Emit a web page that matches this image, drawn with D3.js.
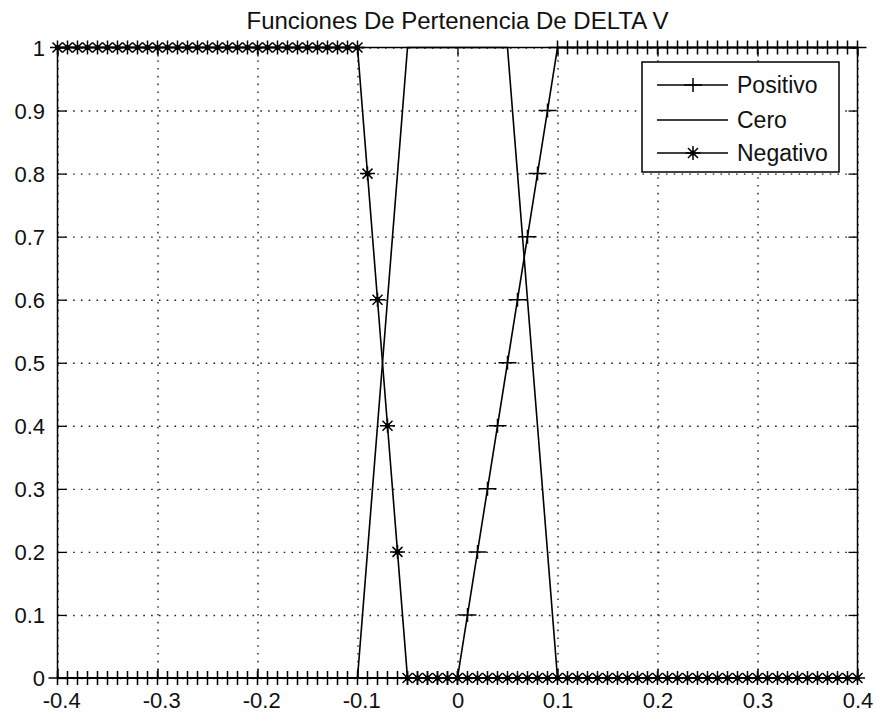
<!DOCTYPE html>
<html>
<head>
<meta charset="utf-8">
<script src="https://cdn.jsdelivr.net/npm/d3@7"></script>
<style>
  html, body { margin: 0; padding: 0; background: #fff; }
  svg { display: block; }
  text { font-family: "Liberation Sans", Arial, Helvetica, sans-serif; fill: #111; }
</style>
</head>
<body>
<svg id="chart" width="876" height="714"></svg>
<script>
// Sample points of the universe of discourse for DELTA V
const xValues = [
  -0.40, -0.39, -0.38, -0.37, -0.36, -0.35, -0.34, -0.33, -0.32, -0.31,
  -0.30, -0.29, -0.28, -0.27, -0.26, -0.25, -0.24, -0.23, -0.22, -0.21,
  -0.20, -0.19, -0.18, -0.17, -0.16, -0.15, -0.14, -0.13, -0.12, -0.11,
  -0.10, -0.09, -0.08, -0.07, -0.06, -0.05, -0.04, -0.03, -0.02, -0.01,
   0.00,  0.01,  0.02,  0.03,  0.04,  0.05,  0.06,  0.07,  0.08,  0.09,
   0.10,  0.11,  0.12,  0.13,  0.14,  0.15,  0.16,  0.17,  0.18,  0.19,
   0.20,  0.21,  0.22,  0.23,  0.24,  0.25,  0.26,  0.27,  0.28,  0.29,
   0.30,  0.31,  0.32,  0.33,  0.34,  0.35,  0.36,  0.37,  0.38,  0.39,
   0.40
];

// Membership degrees, one value per sample point
const positivo = [
  0, 0, 0, 0, 0, 0, 0, 0, 0, 0,
  0, 0, 0, 0, 0, 0, 0, 0, 0, 0,
  0, 0, 0, 0, 0, 0, 0, 0, 0, 0,
  0, 0, 0, 0, 0, 0, 0, 0, 0, 0,
  0, 0.1, 0.2, 0.3, 0.4, 0.5, 0.6, 0.7, 0.8, 0.9,
  1, 1, 1, 1, 1, 1, 1, 1, 1, 1,
  1, 1, 1, 1, 1, 1, 1, 1, 1, 1,
  1, 1, 1, 1, 1, 1, 1, 1, 1, 1,
  1
];
const cero = [
  0, 0, 0, 0, 0, 0, 0, 0, 0, 0,
  0, 0, 0, 0, 0, 0, 0, 0, 0, 0,
  0, 0, 0, 0, 0, 0, 0, 0, 0, 0,
  0, 0.2, 0.4, 0.6, 0.8, 1, 1, 1, 1, 1,
  1, 1, 1, 1, 1, 1, 0.8, 0.6, 0.4, 0.2,
  0, 0, 0, 0, 0, 0, 0, 0, 0, 0,
  0, 0, 0, 0, 0, 0, 0, 0, 0, 0,
  0, 0, 0, 0, 0, 0, 0, 0, 0, 0,
  0
];
const negativo = [
  1, 1, 1, 1, 1, 1, 1, 1, 1, 1,
  1, 1, 1, 1, 1, 1, 1, 1, 1, 1,
  1, 1, 1, 1, 1, 1, 1, 1, 1, 1,
  1, 0.8, 0.6, 0.4, 0.2, 0, 0, 0, 0, 0,
  0, 0, 0, 0, 0, 0, 0, 0, 0, 0,
  0, 0, 0, 0, 0, 0, 0, 0, 0, 0,
  0, 0, 0, 0, 0, 0, 0, 0, 0, 0,
  0, 0, 0, 0, 0, 0, 0, 0, 0, 0,
  0
];

const seriesNames = ["Positivo", "Cero", "Negativo"];
const xTicks = [-0.4, -0.3, -0.2, -0.1, 0, 0.1, 0.2, 0.3, 0.4];
const xTickLabels = ["-0.4", "-0.3", "-0.2", "-0.1", "0", "0.1", "0.2", "0.3", "0.4"];
const yTicks = [0, 0.1, 0.2, 0.3, 0.4, 0.5, 0.6, 0.7, 0.8, 0.9, 1];
const yTickLabels = ["0", "0.1", "0.2", "0.3", "0.4", "0.5", "0.6", "0.7", "0.8", "0.9", "1"];
const titleText = "Funciones De Pertenencia De DELTA V";

const svg = d3.select("#chart");
const plot = { left: 57.5, right: 857.5, top: 47.5, bottom: 678 };

const x = d3.scaleLinear().domain([-0.4, 0.4]).range([plot.left, plot.right]);
const y = d3.scaleLinear().domain([0, 1]).range([plot.bottom, plot.top]);

// Dotted grid
const grid = svg.append("g").attr("class", "grid");
grid.append("g")
  .attr("transform", `translate(0,${plot.bottom})`)
  .call(d3.axisBottom(x).tickValues(xTicks).tickSize(-(plot.bottom - plot.top)).tickFormat(""))
  .call(g => g.select(".domain").remove());
grid.append("g")
  .attr("transform", `translate(${plot.left},0)`)
  .call(d3.axisLeft(y).tickValues(yTicks).tickSize(-(plot.right - plot.left)).tickFormat(""))
  .call(g => g.select(".domain").remove());
grid.selectAll("line")
  .attr("stroke", "#222")
  .attr("stroke-width", 1.4)
  .attr("stroke-dasharray", "1.6,6.2");

// Axes box with inward ticks on all four sides
const tickLen = 9;
const axisStyle = g => {
  g.select(".domain").remove();
  g.selectAll(".tick line").attr("stroke", "#000").attr("stroke-width", 1.3);
};

const xAxis = svg.append("g")
  .attr("transform", `translate(0,${plot.bottom})`)
  .call(d3.axisBottom(x).tickValues(xTicks).tickSizeInner(-tickLen).tickSizeOuter(0)
    .tickFormat((d, i) => xTickLabels[i]))
  .call(axisStyle);
xAxis.selectAll(".tick text")
  .attr("font-size", 22)
  .attr("y", 30)
  .attr("dy", 0)
  .attr("text-anchor", "middle");
// Center the numeric part under the tick; a leading minus hangs to the left
xAxis.selectAll(".tick text").each(function () {
  const t = d3.select(this);
  const label = t.text();
  if (label.startsWith("-")) {
    const full = this.getComputedTextLength();
    t.text(label.slice(1));
    const bare = this.getComputedTextLength();
    t.text(label);
    t.attr("dx", (full - bare) / 2);
  }
});

svg.append("g")
  .attr("transform", `translate(0,${plot.top})`)
  .call(d3.axisTop(x).tickValues(xTicks).tickSizeInner(-tickLen).tickSizeOuter(0).tickFormat(""))
  .call(axisStyle);

const yAxis = svg.append("g")
  .attr("transform", `translate(${plot.left},0)`)
  .call(d3.axisLeft(y).tickValues(yTicks).tickSizeInner(-tickLen).tickSizeOuter(0)
    .tickFormat((d, i) => yTickLabels[i]))
  .call(axisStyle);
yAxis.selectAll(".tick text")
  .attr("font-size", 22)
  .attr("x", -12.5)
  .attr("dy", "0.36em")
  .attr("text-anchor", "end");

svg.append("g")
  .attr("transform", `translate(${plot.right},0)`)
  .call(d3.axisRight(y).tickValues(yTicks).tickSizeInner(-tickLen).tickSizeOuter(0).tickFormat(""))
  .call(axisStyle);

svg.append("rect")
  .attr("x", plot.left).attr("y", plot.top)
  .attr("width", plot.right - plot.left).attr("height", plot.bottom - plot.top)
  .attr("fill", "none").attr("stroke", "#000").attr("stroke-width", 1.5);

// Marker glyphs, drawn around the origin of each point
const plusPath = "M-9,0H9M0,-7V7";
const starPath = "M-7.5,0H7.5M0,-7V7M-5,-5L5,5M-5,5L5,-5";

const series = [
  { name: seriesNames[0], values: positivo, marker: plusPath },
  { name: seriesNames[1], values: cero, marker: null },
  { name: seriesNames[2], values: negativo, marker: starPath }
];

const line = d3.line()
  .x((d, i) => x(xValues[i]))
  .y(d => y(d));

series.forEach(s => {
  const g = svg.append("g").attr("class", "series");
  g.append("path")
    .datum(s.values)
    .attr("d", line)
    .attr("fill", "none")
    .attr("stroke", "#000")
    .attr("stroke-width", 1.6);
  if (s.marker) {
    g.selectAll("path.marker")
      .data(s.values)
      .join("path")
      .attr("class", "marker")
      .attr("transform", (d, i) => `translate(${x(xValues[i])},${y(d)})`)
      .attr("d", s.marker)
      .attr("fill", "none")
      .attr("stroke", "#000")
      .attr("stroke-width", 1.5);
    if (s.marker === starPath) {
      g.selectAll("circle.core")
        .data(s.values)
        .join("circle")
        .attr("class", "core")
        .attr("cx", (d, i) => x(xValues[i]))
        .attr("cy", d => y(d))
        .attr("r", 2.6)
        .attr("fill", "#000");
    }
  }
});

// Title
svg.append("text")
  .attr("x", (plot.left + plot.right) / 2)
  .attr("y", 29)
  .attr("text-anchor", "middle")
  .attr("font-size", 24)
  .text(titleText);

// Legend
const legend = svg.append("g").attr("class", "legend");
legend.append("rect")
  .attr("x", 642).attr("y", 62)
  .attr("width", 197).attr("height", 110)
  .attr("fill", "#fff").attr("stroke", "#000").attr("stroke-width", 1.5);

const legendRows = [85, 120, 153];
series.forEach((s, i) => {
  const ly = legendRows[i];
  legend.append("line")
    .attr("x1", 657).attr("x2", 728)
    .attr("y1", ly).attr("y2", ly)
    .attr("stroke", "#000").attr("stroke-width", 1.6);
  if (s.marker) {
    legend.append("path")
      .attr("transform", `translate(693,${ly})`)
      .attr("d", s.marker)
      .attr("fill", "none").attr("stroke", "#000").attr("stroke-width", 1.5);
    if (s.marker === starPath) {
      legend.append("circle").attr("cx", 693).attr("cy", ly).attr("r", 2.6).attr("fill", "#000");
    }
  }
  legend.append("text")
    .attr("x", 737).attr("y", ly)
    .attr("dy", "0.36em")
    .attr("font-size", 23)
    .text(s.name);
});
</script>
</body>
</html>
